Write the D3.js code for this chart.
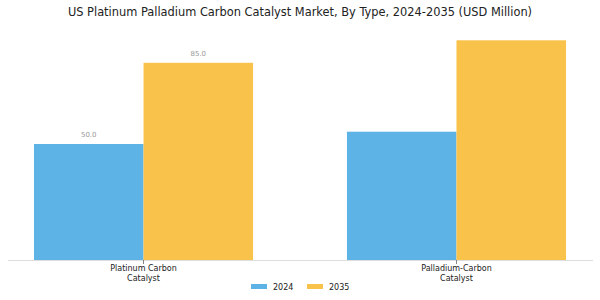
<!DOCTYPE html>
<html><head><meta charset="utf-8">
<script src="https://cdn.jsdelivr.net/npm/d3@7"></script>
<style>body{margin:0;background:#fff}svg{display:block;font-family:"DejaVu Sans",sans-serif}</style>
</head><body><svg id="c" width="600" height="300"></svg>
<script>
const categories = ["Platinum Carbon\nCatalyst", "Palladium-Carbon\nCatalyst"];
const seriesNames = ["2024", "2035"];
const values2024 = [50.0, 55.3];
const values2035 = [85.0, 94.7];
const labels2024 = ["50.0", null];
const labels2035 = ["85.0", null];
const colors = ["#5DB3E6", "#F9C34B"];

const svg = d3.select("#c");
const baseY = 260;
const x = d3.scaleBand().domain(categories).range([8, 592]).paddingInner(0.3).paddingOuter(0.083);
const xs = d3.scaleBand().domain(seriesNames).range([0, x.bandwidth()]);
const y = d3.scaleLinear().domain([0, 50]).range([baseY, 144]);

svg.append("text").attr("x", 300).attr("y", 16).attr("text-anchor", "middle")
  .attr("font-size", 11.4).attr("fill", "#222")
  .text("US Platinum Palladium Carbon Catalyst Market, By Type, 2024-2035 (USD Million)");

const series = [values2024, values2035];
const labs = [labels2024, labels2035];
series.forEach((vals, si) => {
  svg.append("g").selectAll("rect").data(categories).join("rect")
    .attr("x", (d) => x(d) + xs(seriesNames[si]))
    .attr("width", xs.bandwidth())
    .attr("y", (d, i) => y(vals[i]))
    .attr("height", (d, i) => baseY - y(vals[i]))
    .attr("fill", colors[si]);
  svg.append("g").selectAll("text").data(categories).join("text")
    .filter((d, i) => labs[si][i] != null)
    .attr("x", (d) => x(d) + xs(seriesNames[si]) + xs.bandwidth() / 2)
    .attr("y", (d) => y(vals[categories.indexOf(d)]) - 7)
    .attr("text-anchor", "middle").attr("font-size", 7).attr("fill", "#999")
    .text((d) => labs[si][categories.indexOf(d)]);
});

// axis
svg.append("line").attr("x1", 8).attr("x2", 593).attr("y1", baseY + 0.5).attr("y2", baseY + 0.5)
  .attr("stroke", "#ddd").attr("stroke-width", 1);
const ax = svg.append("g");
categories.forEach(c => {
  const cx = x(c) + x.bandwidth() / 2;
  ax.append("line").attr("x1", cx).attr("x2", cx).attr("y1", baseY).attr("y2", baseY + 4)
    .attr("stroke", "#666").attr("stroke-width", 0.8);
  const t = ax.append("text").attr("x", cx).attr("y", baseY + 11).attr("text-anchor", "middle")
    .attr("font-size", 8).attr("fill", "#222");
  c.split("\n").forEach((ln, k) => t.append("tspan").attr("x", cx).attr("dy", k ? 9.5 : 0).text(ln));
});

// legend
const legX = [251, 307];
seriesNames.forEach((s, i) => {
  svg.append("rect").attr("x", legX[i]).attr("y", 284).attr("width", 16).attr("height", 5).attr("fill", colors[i]);
  svg.append("text").attr("x", legX[i] + 22).attr("y", 290).attr("font-size", 8).attr("fill", "#222").text(s);
});
</script></body></html>
